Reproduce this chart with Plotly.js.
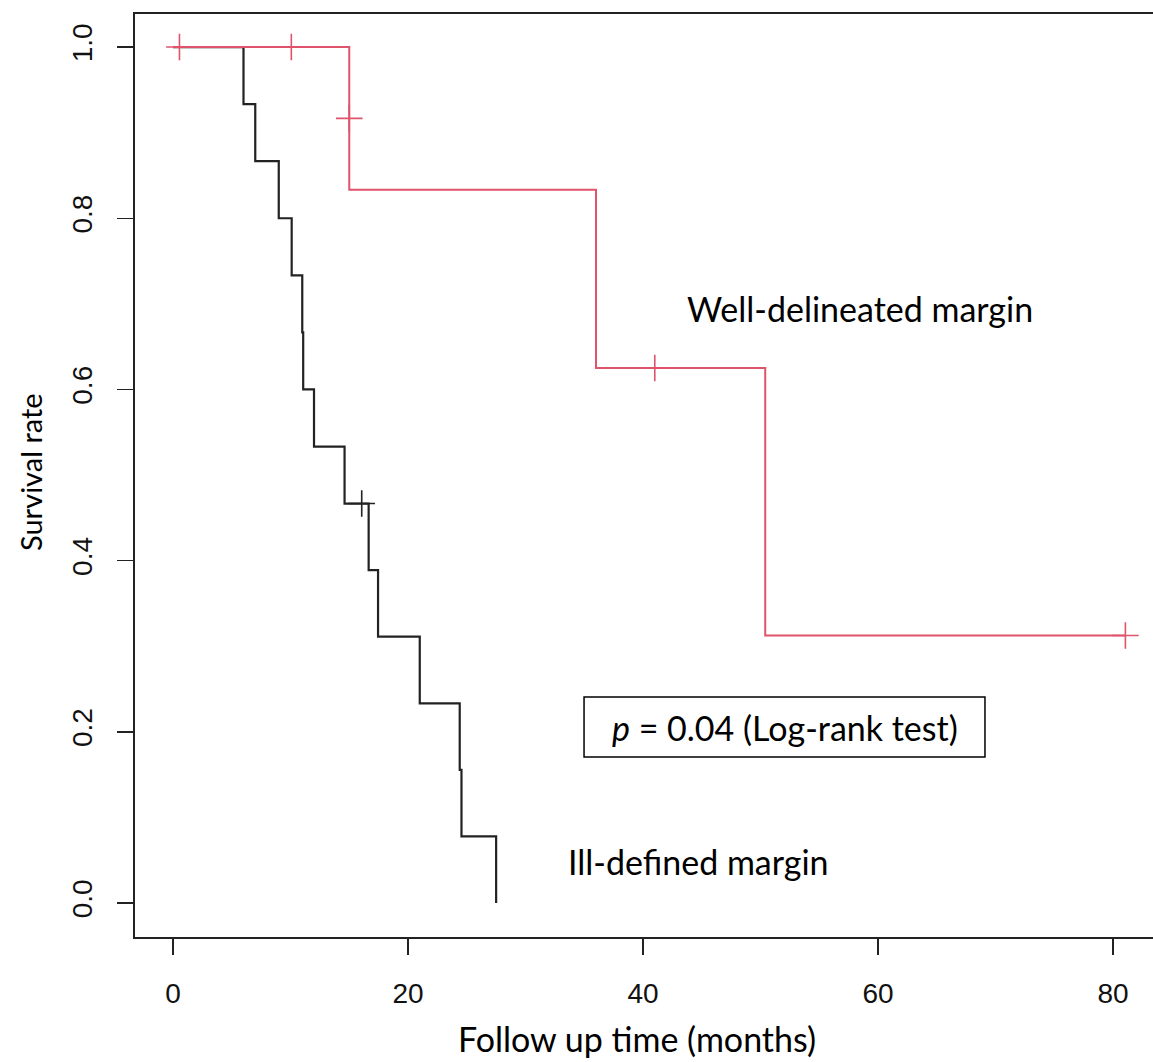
<!DOCTYPE html>
<html>
<head>
<meta charset="utf-8">
<script src="https://cdn.plot.ly/plotly-3.0.1.min.js"></script>
<style>html,body{margin:0;padding:0;background:#fff;}#chart{width:1153px;height:1062px;}</style>
</head>
<body>
<div id="chart"></div>
<script>
// Ill-defined margin (black) Kaplan-Meier steps
var illTime = [0, 6, 7, 9, 10.1, 11.0, 11.08, 12, 14.6, 16.65, 17.45, 21, 24.4, 24.55, 27.5];
var illSurv = [1, 0.9333, 0.8667, 0.8, 0.7333, 0.6667, 0.6, 0.5333, 0.4667, 0.3889, 0.3111, 0.2333, 0.1556, 0.0778, 0];
var illCensTime = [16.06];
var illCensSurv = [0.4667];

// Well-delineated margin (red) Kaplan-Meier steps
var wellTime = [0, 15, 36, 50.4, 81.05];
var wellSurv = [1, 0.8333, 0.625, 0.3125, 0.3125];
var wellCensTime = [0.55, 10.07, 15, 41, 81.05];
var wellCensSurv = [1, 1, 0.9167, 0.625, 0.3125];

var xTicks = [0, 20, 40, 60, 80];
var yTicks = [0, 0.2, 0.4, 0.6, 0.8, 1.0];
var yTickText = ['0.0', '0.2', '0.4', '0.6', '0.8', '1.0'];

var RED = '#DF536B';
var BLACK = '#222222';

var traces = [
  {x: illTime, y: illSurv, mode: 'lines', line: {shape: 'hv', color: BLACK, width: 2.2}, hoverinfo: 'skip'},
  {x: illCensTime, y: illCensSurv, mode: 'markers', marker: {symbol: 'cross-thin', size: 19, line: {color: BLACK, width: 1.6}}, hoverinfo: 'skip'},
  {x: wellTime, y: wellSurv, mode: 'lines', line: {shape: 'hv', color: RED, width: 2}, hoverinfo: 'skip'},
  {x: wellCensTime, y: wellCensSurv, mode: 'markers', marker: {symbol: 'cross-thin', size: 19, line: {color: RED, width: 1.6}}, hoverinfo: 'skip'}
];

var FAM = 'Lato, "Open Sans", sans-serif';
var textFont = {family: FAM, size: 34, color: '#000'};

var layout = {
  width: 1153, height: 1062,
  margin: {l: 135, r: 0, t: 14, b: 125, pad: 0},
  paper_bgcolor: '#fff', plot_bgcolor: '#fff',
  showlegend: false,
  xaxis: {
    range: [-3.234, 83.40], tickvals: xTicks, ticktext: xTicks.map(String),
    showgrid: false, zeroline: false, showline: true, mirror: true,
    linecolor: '#222', linewidth: 1.6,
    ticks: 'outside', ticklen: 16, tickwidth: 1.4, tickcolor: '#222',
    ticklabelstandoff: 15,
    tickfont: {family: '"Liberation Sans", Arial, sans-serif', size: 28, color: '#111'},
    title: {text: ''}
  },
  yaxis: {
    range: [-0.0397, 1.0386], tickvals: yTicks, ticktext: yTickText,
    showgrid: false, zeroline: false, showline: true, mirror: false,
    linecolor: '#222', linewidth: 1.6,
    ticks: 'outside', ticklen: 16, tickwidth: 1.4, tickcolor: '#222',
    tickangle: -90, ticklabelstandoff: 14,
    tickfont: {family: '"Liberation Sans", Arial, sans-serif', size: 28, color: '#111'},
    title: {text: ''}
  },
  shapes: [
    {type: 'rect', xref: 'x', yref: 'y', x0: 34.98, x1: 69.1, y0: 0.1706, y1: 0.2407,
     line: {color: '#000', width: 1.5}, fillcolor: 'rgba(0,0,0,0)'}
  ],
  annotations: [
    {xref: 'x', yref: 'y', x: 58.5, y: 0.694, text: 'Well-delineated margin', showarrow: false,
     xanchor: 'center', yanchor: 'middle', font: textFont},
    {xref: 'x', yref: 'y', x: 44.7, y: 0.048, text: 'Ill-defined margin', showarrow: false,
     xanchor: 'center', yanchor: 'middle', font: textFont},
    {xref: 'x', yref: 'y', x: 52.05, y: 0.2056, text: '<i>p</i> = 0.04 (Log-rank test)', showarrow: false,
     xanchor: 'center', yanchor: 'middle', font: textFont},
    {xref: 'paper', yref: 'paper', x: 637, y: 1038, text: 'Follow up time (months)', showarrow: false,
     xanchor: 'center', yanchor: 'middle', borderpad: 0, font: {family: FAM, size: 34, color: '#000'}},
    {xref: 'paper', yref: 'paper', x: 30, y: 472, text: 'Survival rate', showarrow: false, textangle: -90,
     xanchor: 'center', yanchor: 'middle', font: {family: FAM, size: 29, color: '#000'}}
  ]
};

// convert pixel positions for the two axis-title annotations into paper coordinates
(function () {
  var pw = 1153 - 135 - 0, ph = 1062 - 14 - 125;
  layout.annotations.forEach(function (a) {
    if (a.xref === 'paper') {
      a.x = (a.x - 135) / pw;
      a.y = (1062 - 125 - a.y) / ph;
    }
  });
})();

Plotly.newPlot('chart', traces, layout, {staticPlot: true, displayModeBar: false});
</script>
</body>
</html>
